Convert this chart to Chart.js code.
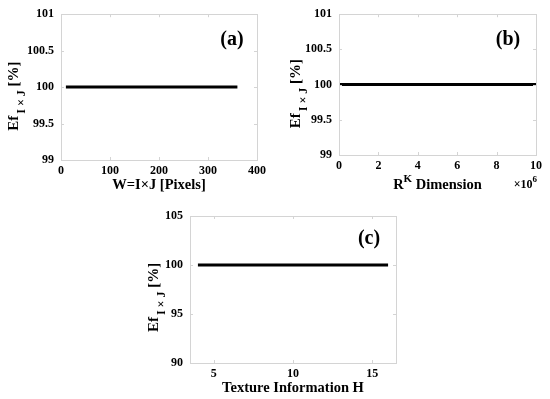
<!DOCTYPE html>
<html><head><meta charset="utf-8">
<script src="https://cdn.jsdelivr.net/npm/chart.js@4.4.0/dist/chart.umd.min.js"></script>
<style>
html,body{margin:0;padding:0;background:#fff;width:550px;height:399px;overflow:hidden}
canvas{position:absolute;left:0;top:0}
</style></head>
<body>
<canvas id="ca" width="550" height="399"></canvas>
<canvas id="cb" width="550" height="399"></canvas>
<canvas id="cc" width="550" height="399"></canvas>
<script>
// ---- data ----
const xA = [10, 60, 110, 160, 210, 260, 310, 360];
const yA = [100, 100, 100, 100, 100, 100, 100, 100];
const xB = [0, 2e6, 4e6, 6e6, 8e6, 10e6];
const yB = [100, 100, 100, 100, 100, 100];
const xC = [4, 6, 8, 10, 12, 14, 16];
const yC = [100, 100, 100, 100, 100, 100, 100];

const xTicksA = [0, 100, 200, 300, 400];
const xTickLabelsA = ['0', '100', '200', '300', '400'];
const yTicksA = [99, 99.5, 100, 100.5, 101];
const yTickLabelsA = ['99', '99.5', '100', '100.5', '101'];
const xTicksB = [0, 2e6, 4e6, 6e6, 8e6, 10e6];
const xTickLabelsB = ['0', '2', '4', '6', '8', '10'];
const yTicksB = [99, 99.5, 100, 100.5, 101];
const yTickLabelsB = ['99', '99.5', '100', '100.5', '101'];
const xTicksC = [5, 10, 15];
const xTickLabelsC = ['5', '10', '15'];
const yTicksC = [90, 95, 100, 105];
const yTickLabelsC = ['90', '95', '100', '105'];

const SERIF = "'Liberation Serif','Times New Roman',serif";
const BOX = '#d4d4d4';

function panelPlugin(opt) {
  return {
    id: 'panel' + opt.id,
    afterDraw(chart) {
      const ctx = chart.ctx;
      const a = chart.chartArea;
      const xs = chart.scales.x, ys = chart.scales.y;
      ctx.save();
      // box
      ctx.strokeStyle = BOX;
      ctx.lineWidth = 1;
      ctx.strokeRect(Math.round(a.left) + 0.5, Math.round(a.top) + 0.5,
        Math.round(a.right - a.left), Math.round(a.bottom - a.top));
      // inward ticks
      ctx.beginPath();
      xs.ticks.forEach(t => {
        const px = Math.round(xs.getPixelForValue(t.value)) + 0.5;
        ctx.moveTo(px, a.bottom); ctx.lineTo(px, a.bottom - 3);
        ctx.moveTo(px, a.top); ctx.lineTo(px, a.top + 3);
      });
      ys.ticks.forEach(t => {
        const py = Math.round(ys.getPixelForValue(t.value)) + 0.5;
        ctx.moveTo(a.left, py); ctx.lineTo(a.left + 3, py);
        ctx.moveTo(a.right, py); ctx.lineTo(a.right - 3, py);
      });
      ctx.stroke();

      ctx.fillStyle = '#000';
      // y title: Ef_{I×J} [%]
      const main = 'bold 15px ' + SERIF, sub = 'bold 12px ' + SERIF;
      ctx.font = main; const wEf = ctx.measureText('Ef').width;
      const wP = ctx.measureText(' [%]').width;
      ctx.font = sub; const wS = ctx.measureText('I × J').width;
      const total = wEf + 2 + wS + wP;
      const cy = (a.top + a.bottom) / 2 + opt.yTitleShift;
      ctx.save();
      ctx.translate(a.left - opt.yTitleOff, cy);
      ctx.rotate(-Math.PI / 2);
      ctx.textBaseline = 'alphabetic';
      ctx.textAlign = 'left';
      let x0 = -total / 2;
      ctx.font = main; ctx.fillText('Ef', x0, 0); x0 += wEf + 2;
      ctx.font = sub; ctx.fillText('I × J', x0, 7); x0 += wS;
      ctx.font = main; ctx.fillText(' [%]', x0, 0);
      ctx.restore();

      // x title
      const cx = (a.left + a.right) / 2;
      ctx.textBaseline = 'middle';
      if (opt.xTitle) {
        ctx.font = 'bold 14.5px ' + SERIF;
        ctx.textAlign = 'center';
        ctx.fillText(opt.xTitle, cx, opt.xTitleY);
      } else {
        // R^K Dimension
        const big = 'bold 14.5px ' + SERIF, small = 'bold 11px ' + SERIF;
        ctx.font = big; const wR = ctx.measureText('R').width, wD = ctx.measureText(' Dimension').width;
        ctx.font = small; const wK = ctx.measureText('K').width;
        let x1 = cx - (wR + wK + wD) / 2;
        ctx.textAlign = 'left';
        ctx.font = big; ctx.fillText('R', x1, opt.xTitleY); x1 += wR;
        ctx.font = small; ctx.fillText('K', x1, opt.xTitleY - 6); x1 += wK;
        ctx.font = big; ctx.fillText(' Dimension', x1, opt.xTitleY);
        // ×10^6
        const f1 = 'bold 12px ' + SERIF, f2 = 'bold 9px ' + SERIF;
        ctx.font = f2; const w6 = ctx.measureText('6').width;
        ctx.font = f1; const w10 = ctx.measureText('×10').width;
        let x2 = a.right + 1 - w6 - w10;
        ctx.fillText('×10', x2, opt.xTitleY);
        ctx.font = f2; ctx.fillText('6', x2 + w10, opt.xTitleY - 5);
      }
      // panel label
      ctx.font = 'bold 20px ' + SERIF;
      ctx.textAlign = 'center';
      ctx.textBaseline = 'middle';
      ctx.fillText(opt.label, opt.labelX, opt.labelY);
      ctx.restore();
    }
  };
}

function makeChart(opt) {
  const W = 550, H = 399, yW = 40, xH = 30;
  const data = opt.xs.map((x, i) => ({ x: x, y: opt.ys[i] }));
  const font = { family: SERIF, weight: 'bold', size: 12 };
  return new Chart(document.getElementById(opt.id), {
    type: 'line',
    data: { datasets: [{ data: data, borderColor: '#000', borderWidth: 3, pointRadius: 0, fill: false, tension: 0, borderCapStyle: 'butt' }] },
    options: {
      responsive: false, animation: false, devicePixelRatio: 1,
      layout: { padding: { left: opt.area.l - yW, right: W - opt.area.r, top: opt.area.t, bottom: H - opt.area.b - xH } },
      plugins: { legend: { display: false }, tooltip: { enabled: false } },
      scales: {
        x: {
          type: 'linear', min: opt.xMin, max: opt.xMax,
          afterBuildTicks: s => { s.ticks = opt.xTicks.map(v => ({ value: v })); },
          afterFit: s => { s.height = xH; },
          ticks: { color: '#000', font: font, padding: opt.xTickPad, maxRotation: 0, autoSkip: false,
            callback: (v, i) => opt.xLabels[i] },
          grid: { display: false, drawTicks: false }, border: { display: false }
        },
        y: {
          type: 'linear', min: opt.yMin, max: opt.yMax,
          afterBuildTicks: s => { s.ticks = opt.yTicks.map(v => ({ value: v })); },
          afterFit: s => { s.width = yW; },
          ticks: { color: '#000', font: font, padding: 7, autoSkip: false,
            callback: (v, i) => opt.yLabels[i] },
          grid: { display: false, drawTicks: false }, border: { display: false }
        }
      }
    },
    plugins: [panelPlugin(opt)]
  });
}

makeChart({ id: 'ca', xs: xA, ys: yA, area: { l: 61, r: 257, t: 14, b: 160 },
  xMin: 0, xMax: 400, yMin: 99, yMax: 101,
  xTicks: xTicksA, xLabels: xTickLabelsA, yTicks: yTicksA, yLabels: yTickLabelsA, xTickPad: 4,
  xTitle: 'W=I×J [Pixels]', xTitleY: 185, yTitleOff: 43, yTitleShift: 9,
  label: '(a)', labelX: 232, labelY: 40 });

makeChart({ id: 'cb', xs: xB, ys: yB, area: { l: 339, r: 536, t: 14, b: 155 },
  xMin: 0, xMax: 10e6, yMin: 99, yMax: 101,
  xTicks: xTicksB, xLabels: xTickLabelsB, yTicks: yTicksB, yLabels: yTickLabelsB, xTickPad: 4,
  xTitle: null, xTitleY: 185, yTitleOff: 39, yTitleShift: 9,
  label: '(b)', labelX: 508, labelY: 40 });

makeChart({ id: 'cc', xs: xC, ys: yC, area: { l: 190, r: 396, t: 216, b: 363 },
  xMin: 3.5, xMax: 16.5, yMin: 90, yMax: 105,
  xTicks: xTicksC, xLabels: xTickLabelsC, yTicks: yTicksC, yLabels: yTickLabelsC, xTickPad: 4,
  xTitle: 'Texture Information H', xTitleY: 388, yTitleOff: 32, yTitleShift: 8,
  label: '(c)', labelX: 369, labelY: 239 });
</script>
</body></html>
